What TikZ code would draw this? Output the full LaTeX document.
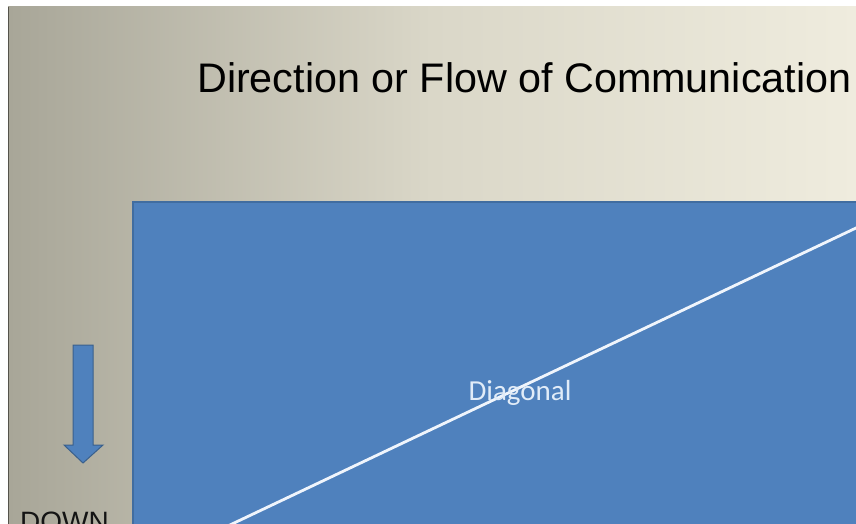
\documentclass[tikz,border=0pt]{standalone}
\usepackage{fontspec}
\setmainfont{Liberation Sans}
\newfontfamily\calib{Carlito}
\usetikzlibrary{calc}
\definecolor{boxblue}{RGB}{79,129,189}
\definecolor{boxedge}{RGB}{65,109,160}
\definecolor{arrowedge}{RGB}{58,96,140}
\definecolor{bgleft}{RGB}{168,166,152}
\definecolor{bgmid}{RGB}{218,215,200}
\definecolor{bgright}{RGB}{239,236,222}
\definecolor{edgeline}{RGB}{85,83,75}
\definecolor{labelcol}{RGB}{225,236,248}
\definecolor{diagline}{RGB}{240,245,252}
\definecolor{sidecol}{RGB}{20,20,20}
\begin{document}
\begin{tikzpicture}[x=1pt,y=-1pt,
  bluebox/.style={fill=boxblue,draw=boxedge,line width=1.2pt},
  bluearrow/.style={fill=boxblue,draw=arrowedge,line width=1pt},
  titletext/.style={font=\fontsize{41.3}{45}\selectfont,text=black,inner sep=0pt},
  labeltext/.style={font=\calib\fontsize{29}{32}\selectfont,text=labelcol,inner sep=0pt},
  sidetext/.style={font=\fontsize{28}{32}\selectfont,text=sidecol,inner sep=0pt}]
\useasboundingbox (0,0) rectangle (856,524);
\clip (0,0) rectangle (856,524);
\fill[white] (0,0) rectangle (856,524);
\shade[left color=bgleft, right color=bgright, middle color=bgmid] (8,7) rectangle (856,524);
\draw[edgeline,line width=1.5pt] (8.5,7) -- (8.5,524);
% title
\node[titletext,anchor=base west] (title) at (197,93) {Direction or Flow of Communication};
% blue area
\draw[bluebox] (133,202) rectangle (870,540);
\coordinate (d1) at (232,524);
\coordinate (d2) at (856,228);
\draw[line width=2.8pt,diagline] ($(d1)!-0.05!(d2)$) -- ($(d2)!-0.05!(d1)$);
\node[labeltext,anchor=base] (diag) at (520,400) {Diagonal};
% down arrow
\draw[bluearrow] (73,345) -- (93,345) -- (93,445) -- (103,445) -- (83,463) -- (64,445) -- (73,445) -- cycle;
\node[sidetext,anchor=base west] (down) at (20,531) {DOWN};
\end{tikzpicture}
\end{document}
